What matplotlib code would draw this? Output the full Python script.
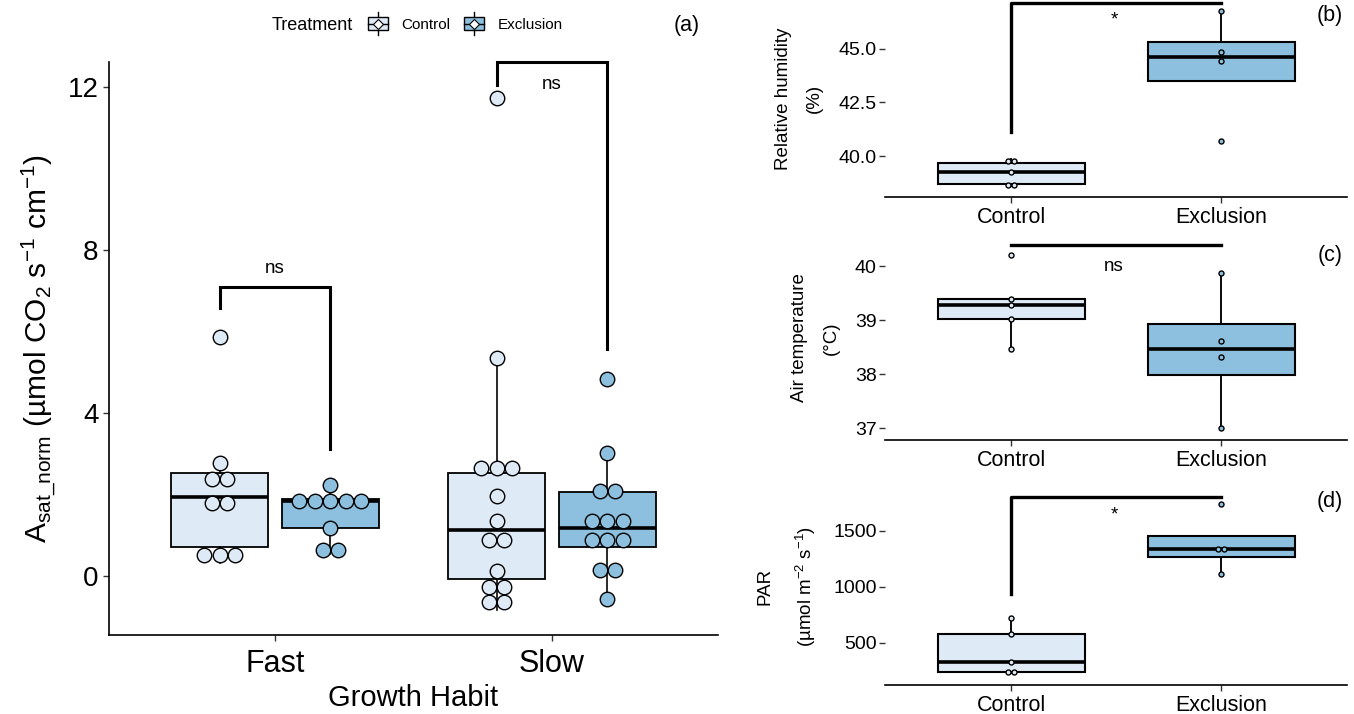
import numpy as np
import matplotlib
matplotlib.use('agg')
import matplotlib.pyplot as plt
from matplotlib.patches import Rectangle, Patch
from matplotlib.lines import Line2D
from matplotlib.legend_handler import HandlerBase

plt.rcParams['font.family'] = ['Liberation Sans', 'DejaVu Sans']
plt.rcParams['mathtext.fontset'] = 'custom'
plt.rcParams['mathtext.rm'] = 'Liberation Sans'
plt.rcParams['mathtext.it'] = 'Liberation Sans:italic'
plt.rcParams['mathtext.default'] = 'regular'

treatments = ['Control', 'Exclusion']
habits = ['Fast', 'Slow']
colors = {'Control': '#DEEBF7', 'Exclusion': '#8DC0DE'}

# A_sat_norm per growth habit / treatment
asat = {
    ('Fast', 'Control'): [0.33, 0.55, 0.71, 1.62, 1.94, 2.26, 2.52, 2.77, 5.86],
    ('Fast', 'Exclusion'): [0.55, 0.71, 1.18, 1.70, 1.83, 1.86, 1.90, 2.00, 2.23],
    ('Slow', 'Control'): [-0.84, -0.42, -0.40, -0.14, 0.11, 0.86, 0.92, 1.34,
                          1.97, 2.46, 2.54, 2.86, 5.34, 11.73],
    ('Slow', 'Exclusion'): [-0.57, 0.05, 0.25, 0.71, 0.90, 1.07, 1.18, 1.36,
                            1.54, 2.05, 2.13, 3.01, 4.83],
}
# significance brackets for (a): top, left leg end, right leg end, label y
sig_a = ['ns', 'ns']
sig_a_top = [7.09, 12.61]
sig_a_left = [6.58, 12.05]
sig_a_right = [3.12, 5.57]
sig_a_text_y = [7.56, 12.07]

# microclimate
rh_ctrl = [38.62, 38.72, 39.25, 39.70, 39.86]
rh_excl = [40.70, 44.42, 44.84, 46.75]
temp_ctrl = [38.46, 39.02, 39.28, 39.40, 40.20]
temp_excl = [37.00, 38.31, 38.62, 39.88]
par_ctrl = [232, 243, 332, 578, 723]
par_excl = [1115, 1320, 1355, 1738]

fig = plt.figure(figsize=(13.54, 7.14), dpi=100)


def dot_bins(values, bw):
    # dot-density binning, bin centre = midpoint of its values
    v = np.sort(np.asarray(values, float))
    bins = []
    end = -np.inf
    for x in v:
        if x >= end:
            bins.append([x])
            end = x + bw
        else:
            bins[-1].append(x)
    return [((min(b) + max(b)) / 2, len(b)) for b in bins]


def draw_dots(ax, values, xc, bw, diam_px, color, lw=1.0):
    sx = ax.bbox.width / np.diff(ax.get_xlim())[0]
    step = diam_px / sx
    ms = (diam_px - lw) * 72 / fig.dpi
    for c, n in dot_bins(values, bw):
        xs = xc + (np.arange(n) - (n - 1) / 2) * step
        ax.plot(xs, [c] * n, 'o', ms=ms, mfc=color, mec='black', mew=lw,
                zorder=5, clip_on=False)


def draw_box(ax, values, xc, width, color, lw=1.3, mlw=2.6):
    ax.boxplot([values], positions=[xc], widths=width, patch_artist=True,
               showfliers=False, showcaps=False, manage_ticks=False,
               boxprops=dict(facecolor=color, edgecolor='black', linewidth=lw),
               medianprops=dict(color='black', linewidth=mlw),
               whiskerprops=dict(color='black', linewidth=lw * 0.9),
               zorder=2)


def bracket(ax, x1, x2, top, yl, yr, lw=2.2):
    ax.plot([x1, x1, x2, x2], [yl, top, top, yr], color='black', lw=lw,
            solid_joinstyle='miter', zorder=6, clip_on=False)


# ---- (a) ----
ax = fig.add_axes([109 / 1354, 1 - 635 / 714, 609 / 1354, 573 / 714])
ax.set_xlim(0.4, 2.6)
ax.set_ylim(-1.45, 12.62)
for i, h in enumerate(habits):
    for j, t in enumerate(treatments):
        xc = i + 1 + (-0.2 if j == 0 else 0.2)
        draw_box(ax, asat[(h, t)], xc, 0.35, colors[t])
        draw_dots(ax, asat[(h, t)], xc, 0.43, 15.5, colors[t])
    bracket(ax, i + 0.8, i + 1.2, sig_a_top[i], sig_a_left[i], sig_a_right[i])
    ax.text(i + 1, sig_a_text_y[i], sig_a[i], ha='center', va='center',
            fontsize=13.5)
ax.set_xticks([1, 2], habits)
ax.set_yticks([0, 4, 8, 12])
ax.tick_params(axis='both', labelsize=20, length=4, width=1, color='#333333')
ax.tick_params(axis='x', labelsize=22, pad=6)
for s in ['top', 'right']:
    ax.spines[s].set_visible(False)
for s in ['left', 'bottom']:
    ax.spines[s].set_linewidth(1.2)
ax.set_xlabel('Growth Habit', fontsize=21, labelpad=4)
ax.set_ylabel('A$_{sat\\_norm}$ (µmol CO$_2$ s$^{-1}$ cm$^{-1}$)', fontsize=21.5,
              labelpad=7)


# ---- legend ----
class BoxKey(HandlerBase):
    def create_artists(self, legend, orig, xd, yd, w, h, fontsize, trans):
        fc = orig.get_facecolor()
        cx, cy = xd + w / 2, yd + h / 2
        bw, bh, wh = w * 0.95, 9.5, 8.5
        wl = Line2D([cx, cx], [cy - wh, cy + wh], color='black', lw=1.0,
                    transform=trans)
        box = Rectangle((cx - bw / 2, cy - bh / 2), bw, bh, fc=fc,
                        ec='black', lw=1.0, transform=trans)
        ml = Line2D([cx - bw / 2, cx + bw / 2], [cy, cy], color='black',
                    lw=1.0, transform=trans)
        dot = Line2D([cx], [cy], marker='D', ms=5, mfc='white', mec='black',
                     mew=0.8, transform=trans)
        return [wl, box, ml, dot]


fig.text(272 / 1354, 1 - 25 / 714, 'Treatment', fontsize=13, ha='left',
         va='center')
handles = [Patch(facecolor=colors[t]) for t in treatments]
fig.legend(handles, treatments, handler_map={Patch: BoxKey()},
           loc='center left', bbox_to_anchor=(367 / 1354, 1 - 25 / 714),
           ncol=2, frameon=False, fontsize=11, handlelength=1.4,
           handletextpad=0.85, columnspacing=0.85, borderpad=0,
           borderaxespad=0)


# ---- (b)-(d) ----
def side_panel(rect, ctrl, excl, ylim, yticks, fmt, ylabel, bw, sig, top,
               yl, text_y):
    a = fig.add_axes(rect)
    a.set_xlim(0.4, 2.6)
    a.set_ylim(*ylim)
    for k, (vals, t) in enumerate([(ctrl, 'Control'), (excl, 'Exclusion')]):
        draw_box(a, vals, k + 1, 0.7, colors[t], lw=1.5, mlw=2.6)
        draw_dots(a, vals, k + 1, bw, 6.0, colors[t], lw=1.0)
    a.plot([1, 1, 2], [yl, top, top], color='black', lw=2.4, zorder=6,
           clip_on=False)
    a.text(1.49, text_y, sig, ha='center', va='center', fontsize=13.5)
    a.set_xticks([1, 2], treatments)
    a.set_yticks(yticks, [fmt % v for v in yticks])
    a.tick_params(axis='both', labelsize=14, length=4, width=1,
                  color='#333333', pad=2)
    a.tick_params(axis='x', labelsize=15.5, pad=3)
    for s in ['top', 'right', 'left']:
        a.spines[s].set_visible(False)
    a.spines['bottom'].set_linewidth(1.2)
    a.set_ylabel(ylabel, fontsize=13.5, labelpad=11, linespacing=2.1)
    return a


side_panel([885 / 1354, 1 - 197 / 714, 462 / 1354, 197 / 714],
           rh_ctrl, rh_excl, (38.1, 47.27), [40.0, 42.5, 45.0], '%.1f',
           'Relative humidity\n(%)', 0.3, '*', 47.15, 41.13, 46.35)
side_panel([885 / 1354, 1 - 440 / 714, 462 / 1354, 204 / 714],
           temp_ctrl, temp_excl, (36.78, 40.56), [37, 38, 39, 40], '%d',
           'Air temperature\n(°C)', 0.1, 'ns', 40.39, 40.39, 40.0)
side_panel([885 / 1354, 1 - 685 / 714, 462 / 1354, 197 / 714],
           par_ctrl, par_excl, (125, 1880), [500, 1000, 1500], '%d',
           'PAR\n(µmol m$^{-2}$ s$^{-1}$)', 58, '*', 1801, 936, 1636)

for lab, x, y in [('(a)', 687, 25), ('(b)', 1330, 15), ('(c)', 1330, 255),
                  ('(d)', 1330, 502)]:
    fig.text(x / 1354, 1 - y / 714, lab, fontsize=15.5, ha='center',
             va='center')

fig.savefig('out.png', dpi=100)
